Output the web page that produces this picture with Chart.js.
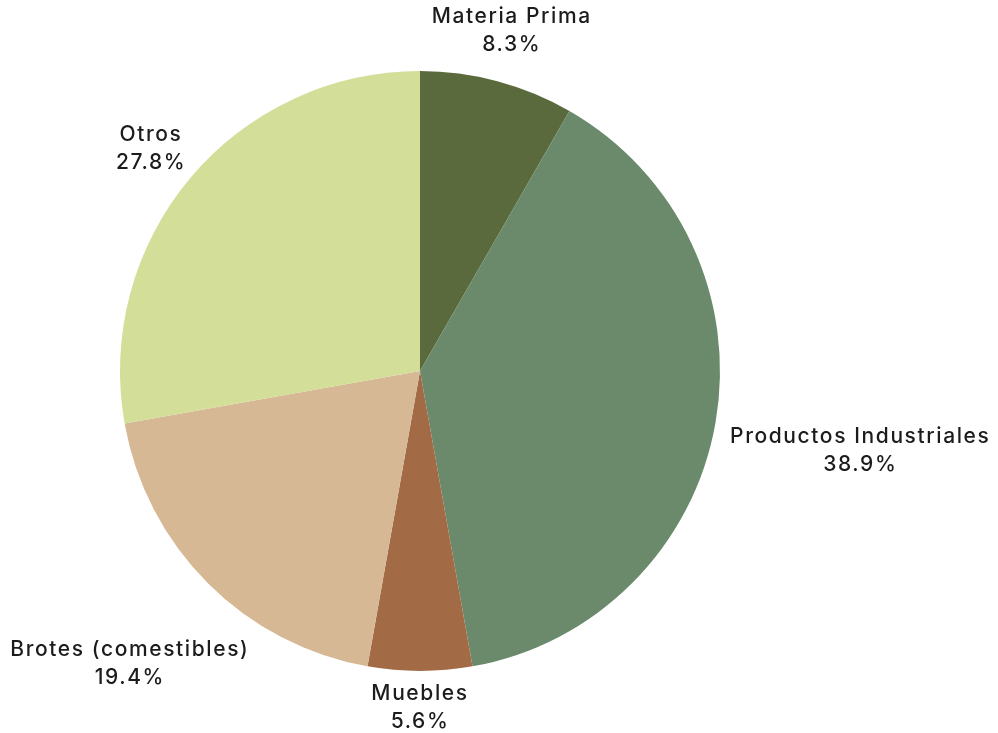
<!DOCTYPE html>
<html>
<head>
<meta charset="utf-8">
<script src="https://cdn.jsdelivr.net/npm/chart.js@4"></script>
<style>
  html, body { margin: 0; padding: 0; background: #ffffff; }
  #wrap { width: 998px; height: 733px; }
</style>
</head>
<body>
<div id="wrap"><canvas id="chart" width="998" height="733"></canvas></div>
<script>
// Distribución por uso (porcentaje)
const categories = ['Materia Prima', 'Productos Industriales', 'Muebles', 'Brotes (comestibles)', 'Otros'];
const shares = [8.3, 38.9, 5.6, 19.4, 27.8];
const sliceColors = ['#5b6a3d', '#6a8a6b', '#a36b45', '#d6b895', '#d3de98'];

const FONT = '500 21px Inter, "Open Sans", sans-serif';
const LETTER_SPACING = '1.6px';
const LINE_H = 28;

// Places each category name and its share just outside its slice
const outsideLabels = {
  id: 'outsideLabels',
  afterDatasetsDraw(chart) {
    const ctx = chart.ctx;
    const meta = chart.getDatasetMeta(0);
    const values = chart.data.datasets[0].data;
    ctx.save();
    ctx.font = FONT;
    if ('letterSpacing' in ctx) ctx.letterSpacing = LETTER_SPACING;
    ctx.fillStyle = '#1c1c1c';
    ctx.textAlign = 'center';
    ctx.textBaseline = 'middle';
    meta.data.forEach((arc, i) => {
      const p = arc.getProps(['x', 'y', 'startAngle', 'endAngle', 'outerRadius'], true);
      const mid = (p.startAngle + p.endAngle) / 2;
      const cx = Math.cos(mid), cy = Math.sin(mid);
      const lines = [chart.data.labels[i], values[i].toFixed(1) + '%'];
      const hw = Math.max(...lines.map(t => ctx.measureText(t).width)) / 2;
      const hh = lines.length * LINE_H / 2;
      const pad = 6 + 8 * Math.max(0, cx);
      const reach = p.outerRadius + pad + hw * Math.abs(cx) + hh * Math.abs(cy);
      const lx = p.x + cx * reach;
      const ly = p.y + cy * reach + 3;
      lines.forEach((t, k) => {
        ctx.fillText(t, lx, ly - hh + LINE_H / 2 + k * LINE_H);
      });
    });
    ctx.restore();
  }
};

new Chart(document.getElementById('chart'), {
  type: 'pie',
  data: {
    labels: categories,
    datasets: [{
      data: shares,
      backgroundColor: sliceColors,
      borderWidth: 0,
      hoverOffset: 0
    }]
  },
  options: {
    responsive: false,
    animation: false,
    layout: { padding: { top: 71, bottom: 62, left: 120, right: 278 } },
    plugins: {
      legend: { display: false },
      tooltip: { enabled: false }
    }
  },
  plugins: [outsideLabels]
});
</script>
</body>
</html>
